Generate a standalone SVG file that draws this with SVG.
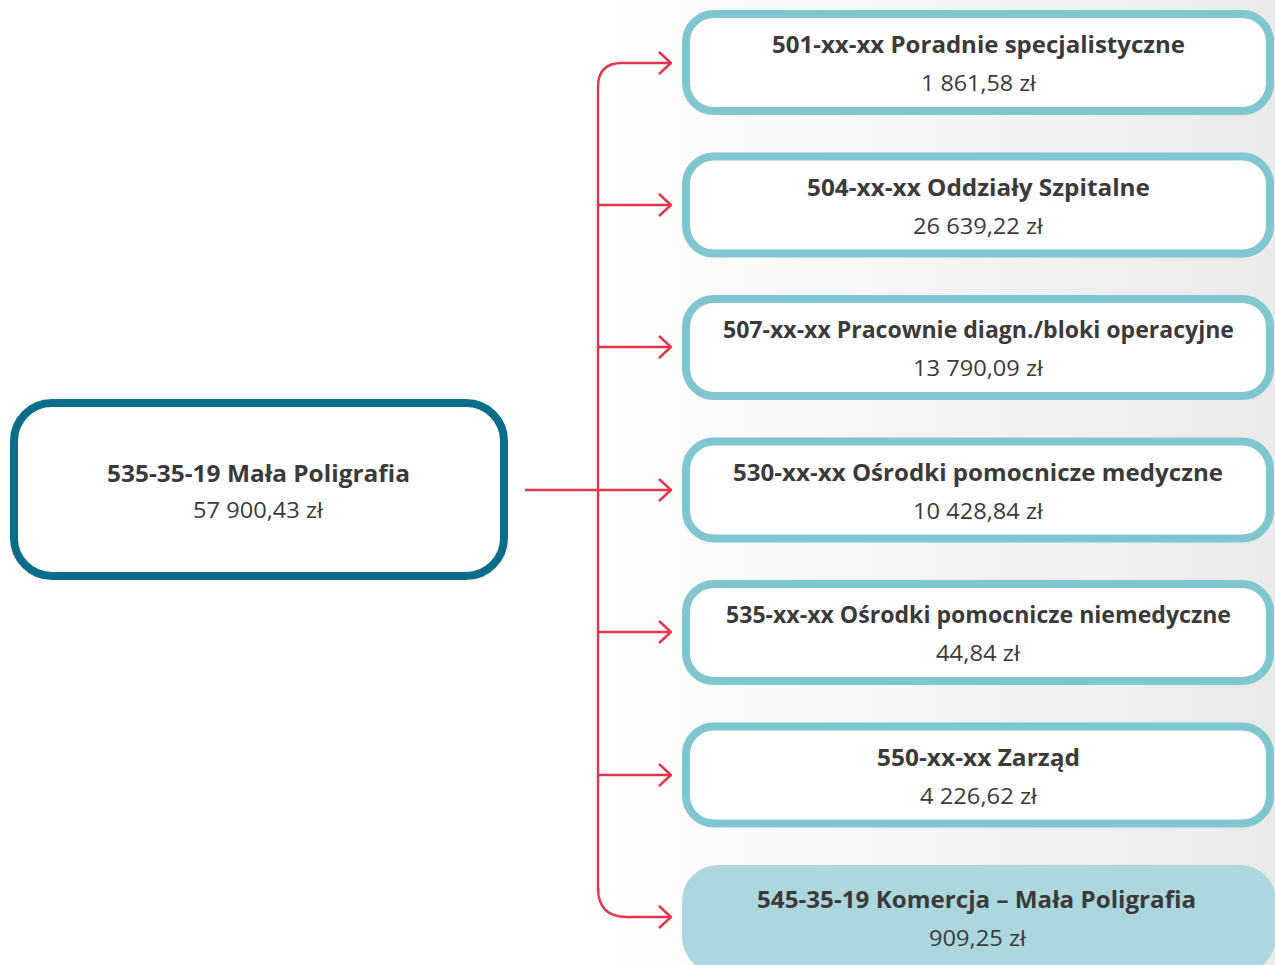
<svg xmlns="http://www.w3.org/2000/svg" width="1275" height="965" viewBox="0 0 1275 965">
  <defs>
    <linearGradient id="bg" x1="0" y1="0" x2="1275" y2="0" gradientUnits="userSpaceOnUse">
      <stop offset="0" stop-color="#ffffff"/>
      <stop offset="0.47" stop-color="#ffffff"/>
      <stop offset="1" stop-color="#eaeaea"/>
    </linearGradient>
    <marker id="arrow" viewBox="0 0 14 24" refX="13" refY="12" markerWidth="14" markerHeight="24" markerUnits="userSpaceOnUse" orient="auto">
      <path d="M1,1 L13,12 L1,23" fill="none" stroke="#e5354d" stroke-width="2.5"/>
    </marker>
    <style>
      .src { fill: #ffffff; stroke: #0b6d8c; stroke-width: 8; }
      .dst { fill: #ffffff; stroke: #80c6d1; stroke-width: 8; }
      .dst-fill { fill: #acd7df; stroke: none; }
      .title { font-family: "Open Sans", "Noto Sans", sans-serif; font-weight: bold; font-size: 23px; fill: #3a3a3a; text-anchor: middle; }
      .amount { font-family: "Open Sans", "Noto Sans", sans-serif; font-size: 22px; fill: #3a3a3a; text-anchor: middle; }
      .link { fill: none; stroke: #e5354d; stroke-width: 2.4; }
    </style>
  </defs>

  <rect x="0" y="0" width="1275" height="965" fill="url(#bg)"/>

  <!-- connectors -->
  <g id="connectors">
    <path class="link" d="M525,490 H671" marker-end="url(#arrow)"/>
    <path class="link" d="M598,892 V87 Q598,63 622,63 H671" marker-end="url(#arrow)"/>
    <path class="link" d="M598,205 H671" marker-end="url(#arrow)"/>
    <path class="link" d="M598,347 H671" marker-end="url(#arrow)"/>
    <path class="link" d="M598,632 H671" marker-end="url(#arrow)"/>
    <path class="link" d="M598,775 H671" marker-end="url(#arrow)"/>
    <path class="link" d="M598,888 Q598,917 627,917 H671" marker-end="url(#arrow)"/>
  </g>

  <!-- source account -->
  <g id="node-535-35-19">
    <rect class="src" x="14" y="403" width="490" height="173" rx="38" ry="38"/>
    <text class="title" x="258.5" y="482" textLength="303" lengthAdjust="spacingAndGlyphs">535-35-19 Mała Poligrafia</text>
    <text class="amount" x="258" y="518" textLength="130" lengthAdjust="spacingAndGlyphs">57 900,43 zł</text>
  </g>

  <!-- target accounts -->
  <g id="node-501">
    <rect class="dst" x="686" y="14" width="584" height="97" rx="28" ry="28"/>
    <text class="title" x="978.5" y="53" textLength="413" lengthAdjust="spacingAndGlyphs">501-xx-xx Poradnie specjalistyczne</text>
    <text class="amount" x="978.5" y="91" textLength="115" lengthAdjust="spacingAndGlyphs">1 861,58 zł</text>
  </g>

  <g id="node-504">
    <rect class="dst" x="686" y="156.5" width="584" height="97" rx="28" ry="28"/>
    <text class="title" x="978.5" y="195.5" textLength="343" lengthAdjust="spacingAndGlyphs">504-xx-xx Oddziały Szpitalne</text>
    <text class="amount" x="978" y="233.5" textLength="130" lengthAdjust="spacingAndGlyphs">26 639,22 zł</text>
  </g>

  <g id="node-507">
    <rect class="dst" x="686" y="299" width="584" height="97" rx="28" ry="28"/>
    <text class="title" x="978.5" y="338" textLength="511" lengthAdjust="spacingAndGlyphs">507-xx-xx Pracownie diagn./bloki operacyjne</text>
    <text class="amount" x="978" y="376" textLength="130" lengthAdjust="spacingAndGlyphs">13 790,09 zł</text>
  </g>

  <g id="node-530">
    <rect class="dst" x="686" y="441.5" width="584" height="97" rx="28" ry="28"/>
    <text class="title" x="978" y="480.5" textLength="490" lengthAdjust="spacingAndGlyphs">530-xx-xx Ośrodki pomocnicze medyczne</text>
    <text class="amount" x="978" y="518.5" textLength="130" lengthAdjust="spacingAndGlyphs">10 428,84 zł</text>
  </g>

  <g id="node-535">
    <rect class="dst" x="686" y="584" width="584" height="97" rx="28" ry="28"/>
    <text class="title" x="978.5" y="623" textLength="505" lengthAdjust="spacingAndGlyphs">535-xx-xx Ośrodki pomocnicze niemedyczne</text>
    <text class="amount" x="978" y="661" textLength="84" lengthAdjust="spacingAndGlyphs">44,84 zł</text>
  </g>

  <g id="node-550">
    <rect class="dst" x="686" y="726.5" width="584" height="97" rx="28" ry="28"/>
    <text class="title" x="978.5" y="765.5" textLength="203" lengthAdjust="spacingAndGlyphs">550-xx-xx Zarząd</text>
    <text class="amount" x="978.5" y="803.5" textLength="117" lengthAdjust="spacingAndGlyphs">4 226,62 zł</text>
  </g>

  <g id="node-545-35-19">
    <rect class="dst-fill" x="682" y="865" width="594" height="108" rx="36" ry="36"/>
    <text class="title" x="976.5" y="908" textLength="439" lengthAdjust="spacingAndGlyphs">545-35-19 Komercja – Mała Poligrafia</text>
    <text class="amount" x="977.5" y="946" textLength="97" lengthAdjust="spacingAndGlyphs">909,25 zł</text>
  </g>
</svg>
